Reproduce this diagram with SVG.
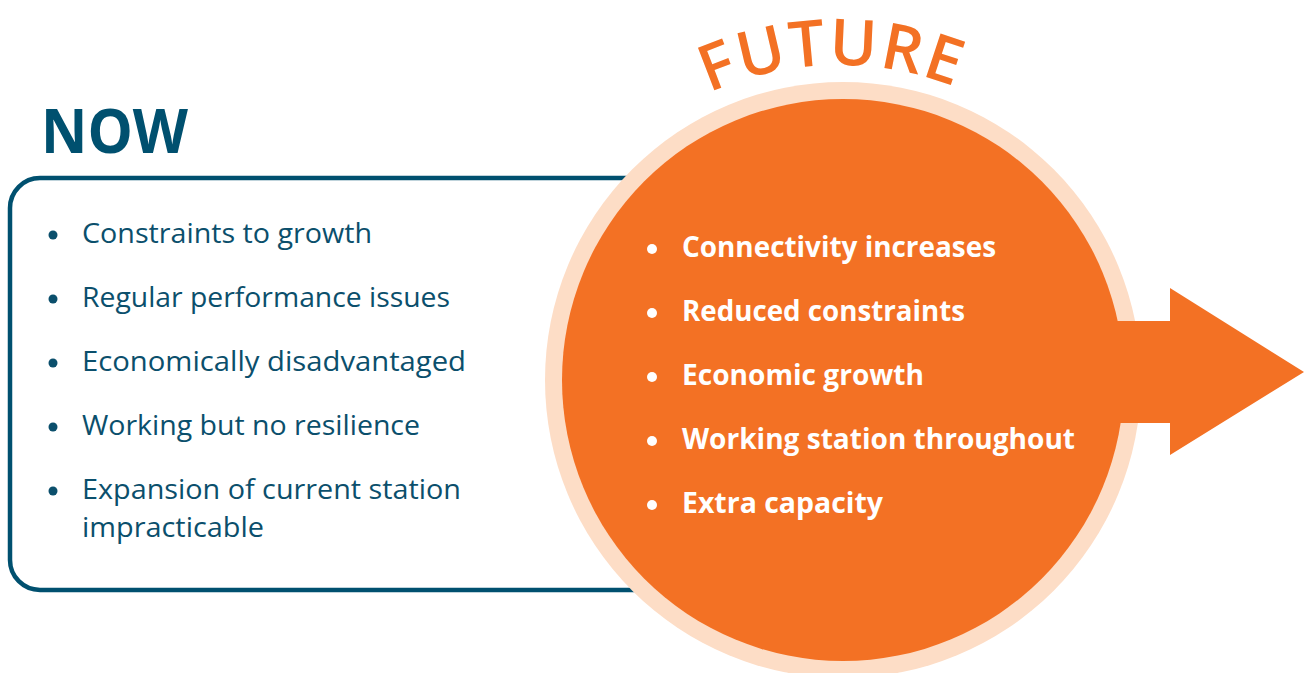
<svg xmlns="http://www.w3.org/2000/svg" width="1308" height="673" viewBox="0 0 1308 673">
<style>
.now{font-family:"Open Sans","Liberation Sans",sans-serif;font-weight:700;font-size:60px;fill:#00506F}
.li{font-family:"Open Sans","Liberation Sans",sans-serif;font-size:27px;fill:#0B4F6C}
.ri{font-family:"Open Sans","Liberation Sans",sans-serif;font-weight:700;font-size:28px;fill:#FFFFFF}
.fut{font-family:"Open Sans","Liberation Sans",sans-serif;font-weight:600;font-size:64px;fill:#F37124;letter-spacing:2px}
.bl{fill:#0B4F6C}
.bw{fill:#FFFFFF}
</style>
<defs>
<path id="arc" d="M 523 381 A 316 316 0 0 1 1155 381"/>
</defs>
<rect x="0" y="0" width="1308" height="673" fill="#FFFFFF"/>
<g id="now">
<text class="now" x="41" y="153" textLength="147" lengthAdjust="spacingAndGlyphs">NOW</text>
<rect x="10" y="178" width="720" height="412" rx="30" ry="30" fill="#FFFFFF" stroke="#00506F" stroke-width="4.5"/>
<circle class="bl" cx="53" cy="235" r="4.5"/>
<text class="li" x="82" y="243" textLength="290" lengthAdjust="spacingAndGlyphs">Constraints to growth</text>
<circle class="bl" cx="53" cy="299" r="4.5"/>
<text class="li" x="82" y="307" textLength="368" lengthAdjust="spacingAndGlyphs">Regular performance issues</text>
<circle class="bl" cx="53" cy="363" r="4.5"/>
<text class="li" x="82" y="371" textLength="384" lengthAdjust="spacingAndGlyphs">Economically disadvantaged</text>
<circle class="bl" cx="53" cy="427" r="4.5"/>
<text class="li" x="82" y="435" textLength="338" lengthAdjust="spacingAndGlyphs">Working but no resilience</text>
<circle class="bl" cx="53" cy="491" r="4.5"/>
<text class="li" x="82" y="499" textLength="379" lengthAdjust="spacingAndGlyphs">Expansion of current station</text>
<text class="li" x="82" y="537" textLength="182" lengthAdjust="spacingAndGlyphs">impracticable</text>
</g>
<g id="future">
<circle cx="843" cy="380" r="298" fill="#FDDDC6"/>
<circle cx="843" cy="380" r="281" fill="#F37124"/>
<polygon points="1100,321 1170,321 1170,288 1304,372 1170,455 1170,423 1100,423" fill="#F37124"/>
<text class="fut"><textPath href="#arc" startOffset="49.3%" text-anchor="middle">FUTURE</textPath></text>
<circle class="bw" cx="652" cy="249" r="5"/>
<text class="ri" x="682" y="257" textLength="314" lengthAdjust="spacingAndGlyphs">Connectivity increases</text>
<circle class="bw" cx="652" cy="313" r="5"/>
<text class="ri" x="682" y="321" textLength="283" lengthAdjust="spacingAndGlyphs">Reduced constraints</text>
<circle class="bw" cx="652" cy="377" r="5"/>
<text class="ri" x="682" y="385" textLength="242" lengthAdjust="spacingAndGlyphs">Economic growth</text>
<circle class="bw" cx="652" cy="441" r="5"/>
<text class="ri" x="682" y="449" textLength="393" lengthAdjust="spacingAndGlyphs">Working station throughout</text>
<circle class="bw" cx="652" cy="505" r="5"/>
<text class="ri" x="682" y="513" textLength="201" lengthAdjust="spacingAndGlyphs">Extra capacity</text>
</g>
</svg>
